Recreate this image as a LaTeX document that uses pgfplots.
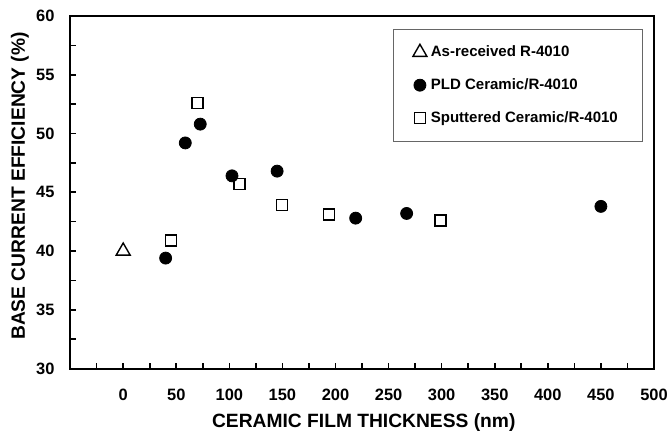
\documentclass[border=0pt]{standalone}
\usepackage{fontspec}
\setmainfont{Liberation Sans}
\usepackage{pgfplots}
\pgfplotsset{compat=1.18}
\begin{document}
\begin{tikzpicture}
\begin{axis}[
  scale only axis,
  width=291.5bp, height=176bp,
  xmin=-50, xmax=500, ymin=30, ymax=60,
  axis line style={line width=1bp},
  xtick={0,50,...,500},
  minor xtick={-25,25,...,475},
  ytick={30,35,...,60},
  minor ytick={32.5,37.5,...,57.5},
  tick align=inside,
  xtick pos=bottom, ytick pos=left,
  major tick length=3bp, minor tick length=3bp,
  every tick/.style={line width=0.8bp, black},
  ticklabel style={font=\fontsize{8.2bp}{9bp}\selectfont\bfseries},
  /pgf/number format/assume math mode=true,
  xticklabel style={yshift=-6.8bp},
  yticklabel style={xshift=-4.3bp},
  xlabel={CERAMIC FILM THICKNESS (nm)},
  ylabel={BASE CURRENT EFFICIENCY (\%)},
  label style={font=\fontsize{9.6bp}{11bp}\selectfont\bfseries},
  x label style={at={(axis description cs:0.503,-0.153)},anchor=center},
  y label style={at={(axis description cs:-0.0858,0.518)},anchor=center,rotate=0},
  legend style={at={(axis cs:489,58.9)},anchor=north east,
    draw=black!60, line width=0.4bp,
    font=\fontsize{7.5bp}{9bp}\selectfont\bfseries,
    inner xsep=10bp, inner ysep=6bp, row sep=5.5bp},
  legend cell align=left,
  legend image code/.code={\draw[#1] plot coordinates {(0bp,0bp)};},
]
\addplot[only marks, mark=triangle, mark size=4bp, mark options={line width=0.7bp, fill=white, draw=black}]
  coordinates {(0,40.0)};
\addlegendentry{As-received R-4010}
\addplot[only marks, mark=*, mark size=3bp, mark options={fill=black, draw=black}]
  coordinates {(40,39.4) (58.5,49.2) (72.6,50.8) (102.5,46.4) (145,46.8) (219,42.8) (267,43.2) (450,43.8)};
\addlegendentry{PLD Ceramic/R-4010}
\addplot[only marks, mark=square, mark size=2.75bp, mark options={line width=0.7bp, fill=white, draw=black}]
  coordinates {(45,40.9) (70,52.6) (109.7,45.7) (149.7,43.9) (194,43.1) (299,42.6)};
\addlegendentry{Sputtered Ceramic/R-4010}
\end{axis}
\pgfresetboundingbox
\path (-35bp,-31.5bp) rectangle (298.5bp,184bp);
\end{tikzpicture}
\end{document}
